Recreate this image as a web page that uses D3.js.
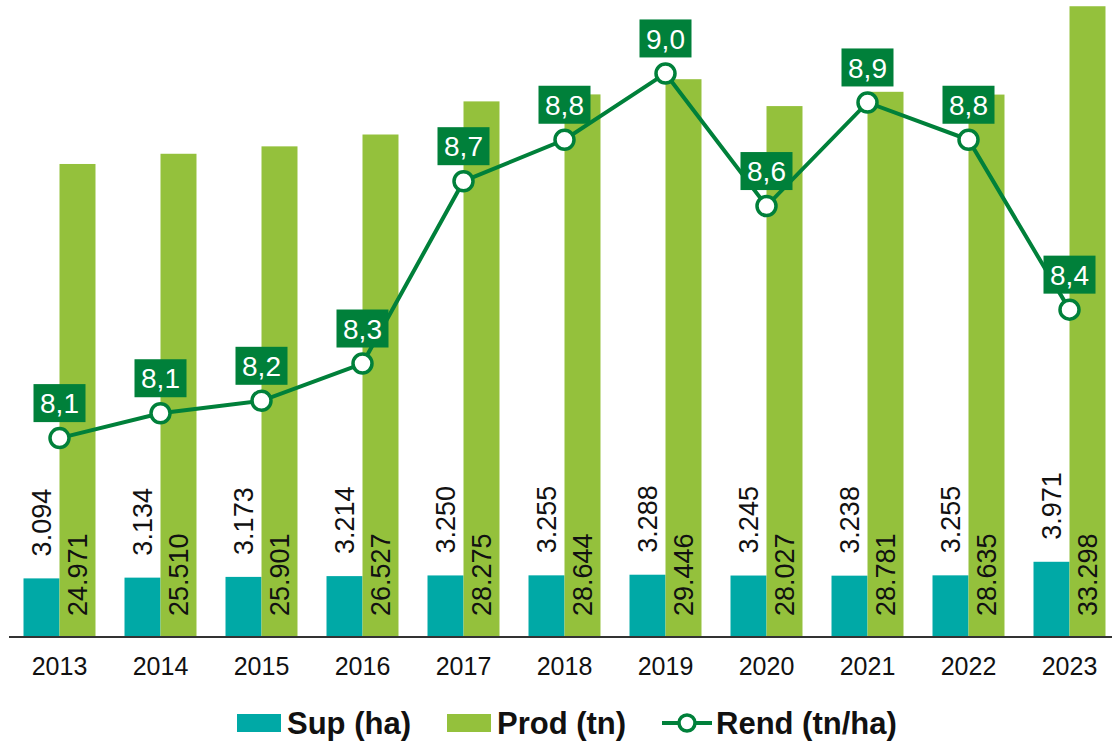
<!DOCTYPE html>
<html>
<head>
<meta charset="utf-8">
<script src="https://cdn.jsdelivr.net/npm/d3@7"></script>
<style>
  body { margin: 0; background: #fff; }
  svg { display: block; font-family: "Liberation Sans", Arial, sans-serif; }
</style>
</head>
<body>
<div class="chart"></div>
<script>
// Data
const years = ['2013', '2014', '2015', '2016', '2017', '2018', '2019', '2020', '2021', '2022', '2023'];
const sup = [3094, 3134, 3173, 3214, 3250, 3255, 3288, 3245, 3238, 3255, 3971];
const prod = [24971, 25510, 25901, 26527, 28275, 28644, 29446, 28027, 28781, 28635, 33298];
const rend = [8.08, 8.14, 8.17, 8.26, 8.70, 8.80, 8.96, 8.64, 8.89, 8.80, 8.39];
const legendLabels = ['Sup (ha)', 'Prod (tn)', 'Rend (tn/ha)'];

const teal = '#00a9a6';
const lime = '#94c13c';
const green = '#00803a';

const width = 1112, height = 743;
const baseY = 637;

const svg = d3.select('.chart')
    .append('svg')
    .attr('width', width)
    .attr('height', height);

// scales
const x = d3.scaleBand()
    .domain(years)
    .range([9, 1120])
    .padding(0);

const xSub = d3.scaleBand()
    .domain(['sup', 'prod'])
    .range([0, x.bandwidth()])
    .paddingInner(0)
    .paddingOuter(0.403);

const y = d3.scaleLinear()
    .domain([0, 35000])
    .range([baseY, -26]);

const y2 = d3.scaleLinear()
    .domain([7.6, 9.2])
    .range([baseY, -26]);

const fmtInt = d => d3.format(',')(d).replace(/,/g, '.');
const fmtDec = d => d.toFixed(1).replace('.', ',');

const rows = years.map((yr, i) => ({ year: yr, sup: sup[i], prod: prod[i], rend: rend[i] }));

// bars
const groups = svg.selectAll('.year')
    .data(rows)
    .enter()
    .append('g')
    .attr('class', 'year')
    .attr('transform', d => `translate(${x(d.year)},0)`);

groups.append('rect')
    .attr('x', xSub('sup'))
    .attr('y', d => y(d.sup))
    .attr('width', xSub.bandwidth())
    .attr('height', d => baseY - y(d.sup))
    .attr('fill', teal);

groups.append('rect')
    .attr('x', xSub('prod'))
    .attr('y', d => y(d.prod))
    .attr('width', xSub.bandwidth())
    .attr('height', d => baseY - y(d.prod))
    .attr('fill', lime);

// bar labels (rotated)
groups.append('text')
    .attr('transform', d => `translate(${xSub('sup') + xSub.bandwidth() / 2},${y(d.sup) - 22}) rotate(-90)`)
    .attr('dy', '0.36em')
    .attr('font-size', 27)
    .attr('fill', '#111')
    .text(d => fmtInt(d.sup));

groups.append('text')
    .attr('transform', d => `translate(${xSub('prod') + xSub.bandwidth() / 2},${baseY - 21}) rotate(-90)`)
    .attr('dy', '0.36em')
    .attr('font-size', 27)
    .attr('fill', '#111')
    .text(d => fmtInt(d.prod));

// x axis
const xAxis = svg.append('g')
    .attr('transform', `translate(0,${baseY})`)
    .call(d3.axisBottom(x).tickSize(0).tickPadding(20));
xAxis.select('.domain').remove();
xAxis.selectAll('text')
    .attr('font-size', 25)
    .attr('font-family', '"Liberation Sans", Arial, sans-serif')
    .attr('fill', '#111');

svg.append('line')
    .attr('x1', 9).attr('x2', width)
    .attr('y1', baseY).attr('y2', baseY)
    .attr('stroke', '#333')
    .attr('stroke-width', 2);

// line
const cx = d => x(d.year) + x.bandwidth() / 2;
const line = d3.line()
    .x(cx)
    .y(d => y2(d.rend));

svg.append('path')
    .datum(rows)
    .attr('d', line)
    .attr('fill', 'none')
    .attr('stroke', green)
    .attr('stroke-width', 4);

svg.selectAll('.pt')
    .data(rows)
    .enter()
    .append('circle')
    .attr('class', 'pt')
    .attr('cx', cx)
    .attr('cy', d => y2(d.rend))
    .attr('r', 9.5)
    .attr('fill', '#fff')
    .attr('stroke', green)
    .attr('stroke-width', 3.5);

// value boxes
const boxW = 52, boxH = 38;
const boxes = svg.selectAll('.box')
    .data(rows)
    .enter()
    .append('g')
    .attr('class', 'box')
    .attr('transform', d => `translate(${cx(d)},${y2(d.rend) - 16 - boxH / 2})`);

boxes.append('rect')
    .attr('x', -boxW / 2)
    .attr('y', -boxH / 2)
    .attr('width', boxW)
    .attr('height', boxH)
    .attr('fill', green);

boxes.append('text')
    .attr('text-anchor', 'middle')
    .attr('dy', '0.36em')
    .attr('font-size', 28)
    .attr('fill', '#fff')
    .text(d => fmtDec(d.rend));

// legend
const legend = svg.append('g').attr('font-size', 31).attr('font-weight', 'bold').attr('fill', '#111');
const ly = 723;

legend.append('rect').attr('x', 237).attr('y', ly - 9).attr('width', 44).attr('height', 18).attr('fill', teal);
legend.append('text').attr('x', 287).attr('y', ly).attr('dy', '0.36em').text(legendLabels[0]);

legend.append('rect').attr('x', 447).attr('y', ly - 9).attr('width', 44).attr('height', 18).attr('fill', lime);
legend.append('text').attr('x', 497).attr('y', ly).attr('dy', '0.36em').text(legendLabels[1]);

legend.append('line').attr('x1', 662).attr('x2', 712).attr('y1', ly).attr('y2', ly)
    .attr('stroke', green).attr('stroke-width', 4);
legend.append('circle').attr('cx', 687).attr('cy', ly).attr('r', 8)
    .attr('fill', '#fff').attr('stroke', green).attr('stroke-width', 3.5);
legend.append('text').attr('x', 716).attr('y', ly).attr('dy', '0.36em').text(legendLabels[2]);
</script>
</body>
</html>
